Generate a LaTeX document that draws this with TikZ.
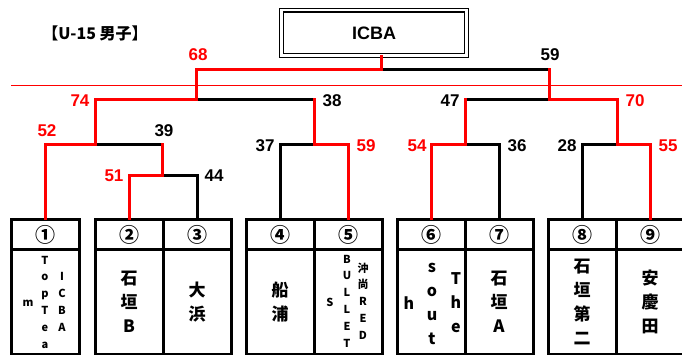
\documentclass[tikz,border=0pt]{standalone}
\usepackage{fontspec}
\setmainfont{Liberation Sans}
\newfontfamily\jpfont{Noto Sans CJK JP}
\tikzset{
ARC/.style ={draw=black,line join=miter,line cap=rect,line width=3pt},
WIN/.style ={ARC,draw=red},
CUT/.style ={draw=red,line width=1pt},
HEAD/.style={draw=black,line width=3pt,minimum width=68pt,minimum height=30pt,inner sep=0pt,font=\jpfont\bfseries\fontsize{20}{20}\selectfont},
BODY/.style={draw=black,line width=3pt,minimum width=68pt,minimum height=104pt,inner sep=0pt},
NAME/.style={align=center,inner sep=0pt,font=\jpfont\bfseries\fontsize{17}{24}\selectfont},
TATE/.style={align=center,inner sep=0pt,font=\jpfont\bfseries\fontsize{11}{16.8}\selectfont},
BIGTATE/.style={TATE,font=\jpfont\bfseries\fontsize{16}{24}\selectfont},
SCORE/.style={inner sep=0pt,font=\bfseries\fontsize{17}{17}\selectfont},
RSCORE/.style={SCORE,text=red},
CHAMP/.style={draw=black,double,line width=1.3pt,double distance=2.5pt,minimum width=185pt,minimum height=45.5pt,font=\bfseries\fontsize{18}{18}\selectfont},
TITLE/.style={inner sep=0pt,font=\jpfont\bfseries\fontsize{16}{16}\selectfont},
}
\begin{document}
\begin{tikzpicture}[x=1pt,y=-1pt] %U-15 bracket
	\useasboundingbox (0,0) rectangle (682,355);
	\node[TITLE] (title) at (95,33) {【U-15 男子】};
	\node[CHAMP] (champ) at (374,33) {ICBA};
	\draw[CUT] (11,86) coordinate (rule-l) -- (682,86) coordinate (rule-r);
	% teams
	\node[HEAD] (h1) at (45,235) {①};  \node[BODY] (b1) at (45,302) {};
	\node[HEAD] (h2) at (129,235) {②}; \node[BODY,NAME] (b2) at (129,302) {石\\垣\\B};
	\node[HEAD] (h3) at (197,235) {③}; \node[BODY,NAME] (b3) at (197,302) {大\\浜};
	\node[HEAD] (h4) at (280,235) {④}; \node[BODY,NAME] (b4) at (280,302) {船\\浦};
	\node[HEAD] (h5) at (348,235) {⑤}; \node[BODY] (b5) at (348,302) {};
	\node[HEAD] (h6) at (431,235) {⑥}; \node[BODY] (b6) at (431,302) {};
	\node[HEAD] (h7) at (499,235) {⑦}; \node[BODY,NAME] (b7) at (499,302) {石\\垣\\A};
	\node[HEAD] (h8) at (582,235) {⑧}; \node[BODY,NAME] (b8) at (582,302) {石\\垣\\第\\二};
	\node[HEAD] (h9) at (650,235) {⑨}; \node[BODY,NAME] (b9) at (650,302) {安\\慶\\田};
	\node[TATE] (n1a) at (28,303) {m};
	\node[TATE] (n1b) at (45,302) {T\\o\\p\\T\\e\\a};
	\node[TATE] (n1c) at (62,302) {I\\C\\B\\A};
	\node[TATE] (n5a) at (330,302) {S};
	\node[TATE] (n5b) at (347,301) {B\\U\\L\\L\\E\\T};
	\node[TATE] (n5c) at (363,301) {沖\\尚\\R\\E\\D};
	\node[BIGTATE] (n6a) at (409,303) {h};
	\node[BIGTATE] (n6b) at (432,304) {s\\o\\u\\t};
	\node[BIGTATE] (n6c) at (456,303) {T\\h\\e};
	% matches
	\coordinate (m1) at (162,176);
	\coordinate (q1) at (95,145);
	\coordinate (q2) at (314,145);
	\coordinate (q3) at (465,145);
	\coordinate (q4) at (617,145);
	\coordinate (s1) at (196,100);
	\coordinate (s2) at (549,100);
	\coordinate (f) at (381,70);
	\path[ARC] (h3.north) |- (m1);
	\path[ARC] (m1 |- q1) -- (q1);
	\path[ARC] (h4.north) |- (q2);
	\path[ARC] (q2 |- s1) -- (s1);
	\path[ARC] (h7.north) |- (q3);
	\path[ARC] (h8.north) |- (q4);
	\path[ARC] (q3 |- s2) -- (s2);
	\path[ARC] (s2 |- f) -- (f);
	\path[WIN] (h2.north) |- (m1) -- (m1 |- q1);
	\path[WIN] (h5.north) |- (q2) -- (q2 |- s1);
	\path[WIN] (h6.north) |- (q3) -- (q3 |- s2);
	\path[WIN] (h9.north) |- (q4) |- (s2) -- (s2 |- f);
	\path[WIN] (h1.north) |- (q1) |- (s1) |- (f) -- (f |- champ.south);
	% scores
	\node[RSCORE] (p68) at (198,55) {68};
	\node[SCORE] (p59a) at (550,55) {59};
	\node[RSCORE] (p74) at (80,101) {74};
	\node[SCORE] (p38) at (332,101) {38};
	\node[SCORE] (p47) at (450,101) {47};
	\node[RSCORE] (p70) at (635,101) {70};
	\node[RSCORE] (p52) at (47,131) {52};
	\node[SCORE] (p39) at (164,131) {39};
	\node[SCORE] (p37) at (265,146) {37};
	\node[RSCORE] (p59b) at (366,146) {59};
	\node[RSCORE] (p54) at (417,146) {54};
	\node[SCORE] (p36) at (517,146) {36};
	\node[SCORE] (p28) at (567,146) {28};
	\node[RSCORE] (p55) at (668,146) {55};
	\node[RSCORE] (p51) at (114,176) {51};
	\node[SCORE] (p44) at (214,176) {44};
\end{tikzpicture}
\end{document}
